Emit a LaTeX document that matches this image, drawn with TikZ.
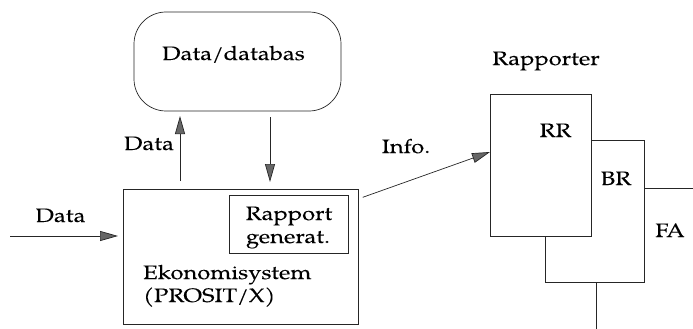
\documentclass[tikz,border=0pt]{standalone}
\usepackage{fontspec}
\setmainfont{TeX Gyre Pagella}[FakeStretch=1.22,FakeBold=0.05]
\usetikzlibrary{arrows.meta}
\begin{document}
\begin{tikzpicture}[x=1pt,y=-1pt,
  line/.style={draw=black!85, line width=0.7pt},
  box/.style={line, rectangle, inner sep=0pt, outer sep=0pt, fill=white},
  lbl/.style={inner sep=0pt, anchor=base, font=\fontsize{19.5}{23}\selectfont},
  flow/.style={line, -{Triangle[length=18pt,width=10pt,fill=black!60]}}]
\useasboundingbox (0,0) rectangle (693,329);
\clip (0,0) rectangle (693,329);

% data store
\node[box, rounded corners=32pt, minimum width=207pt, minimum height=99pt] (db) at (237.5,61.5) {};
\node[lbl] (dbtxt) at (233.5,60) {Data/databas};

% accounting system with report generator
\node[box, minimum width=235pt, minimum height=135pt] (main) at (240.5,256.5) {};
\node[box, minimum width=119pt, minimum height=58pt] (rg) at (288.5,224) {};
\node[lbl] (rg1) at (289,220) {Rapport};
\node[lbl] (rg2) at (288,243) {generat.};
\node[lbl, anchor=base west] (sys1) at (143,279) {Ekonomisystem};
\node[lbl, anchor=base west] (sys2) at (143,302) {(PROSIT/X)};

% stacked reports
\node[lbl] (rap) at (546,65) {Rapporter};
\node[box, minimum width=154pt, minimum height=212pt] (FA) at (673,294) {};
\node[box, minimum width=99pt, minimum height=142pt] (BR) at (594.5,211) {};
\node[box, minimum width=101pt, minimum height=142pt] (RR) at (540.5,165) {};
\node[lbl] (rrtxt) at (555.5,137) {RR};
\node[lbl] (brtxt) at (616,185) {BR};
\node[lbl] (fatxt) at (670,237) {FA};

% flows
\coordinate (upx) at (180,0);
\coordinate (downx) at (270,0);
\coordinate (src) at (10,236);
\coordinate (infoA) at (358,199);
\coordinate (infoB) at (490,152);

\draw[flow, shorten <=8pt, shorten >=5pt] (main.north -| upx) -- (db.south -| upx);
\node[lbl] (updata) at (149,150) {Data};

\draw[flow, shorten <=6pt, shorten >=7pt] (db.south -| downx) -- (main.north -| downx);

\draw[flow, shorten >=5pt] (src) -- (main.west |- src);
\node[lbl] (indata) at (60.5,222) {Data};

\draw[flow, shorten <=5pt] (main.east |- infoA) -- (RR.west |- infoB);
\node[lbl] (info) at (406,153) {Info.};
\end{tikzpicture}
\end{document}
